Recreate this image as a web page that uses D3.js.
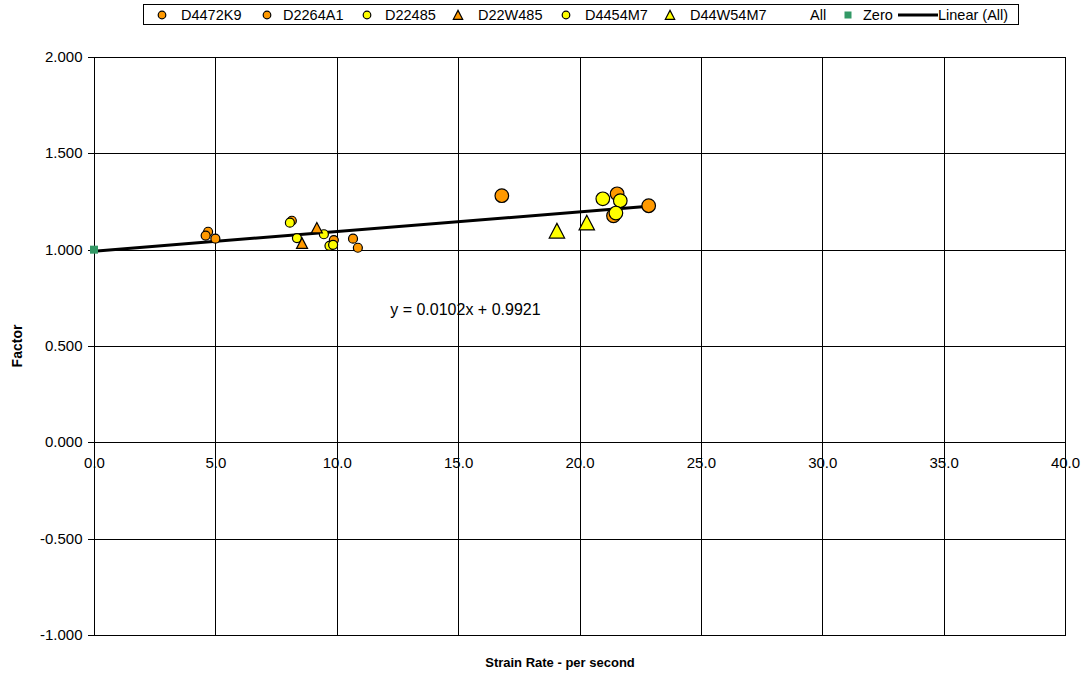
<!DOCTYPE html>
<html><head><meta charset="utf-8">
<script src="https://cdn.jsdelivr.net/npm/d3@7"></script>
<style>body{margin:0;background:#fff}svg{display:block;font-family:"Liberation Sans",Arial,sans-serif}</style>
</head><body><svg id="c" width="1088" height="677"></svg>
<script>
// Data
const seriesNames = ["D4472K9","D2264A1","D22485","D22W485","D4454M7","D44W54M7"];
const d4472k9 = [[16.8,1.28],[21.55,1.29],[21.4,1.176],[22.85,1.228]];
const d2264a1 = [[4.7,1.093],[4.6,1.073],[5.0,1.057],[8.15,1.15],[9.88,1.05],[10.67,1.057],[10.87,1.01]];
const d22485 = [[8.07,1.14],[8.36,1.06],[9.47,1.08],[9.7,1.02],[9.85,1.025]];
const d22w485 = [[9.18,1.11],[8.57,1.03]];
const d4454m7 = [[20.96,1.264],[21.68,1.254],[21.5,1.19]];
const d44w54m7 = [[19.07,1.093],[20.3,1.135]];
const zero = [[0,1.0]];
const slope = 0.0102, intercept = 0.9921;
const xTicks = [0,5,10,15,20,25,30,35,40];
const yTicks = [-1,-0.5,0,0.5,1,1.5,2];

const svg = d3.select("#c");
const L=94,R=1065,T=57,B=635;
const x = d3.scaleLinear().domain([0,40]).range([L,R]);
const y = d3.scaleLinear().domain([-1,2]).range([B,T]);
const ORANGE="#FF9900", YELLOW="#FFFF00", GREEN="#339966";
const TF = 15;

// gridlines
const g = svg.append("g").attr("shape-rendering","crispEdges");
g.selectAll(".hg").data(yTicks).join("line").attr("x1",L).attr("x2",R)
 .attr("y1",d=>Math.round(y(d))+0.5).attr("y2",d=>Math.round(y(d))+0.5).attr("stroke","#000");
g.selectAll(".vg").data(xTicks).join("line").attr("y1",T).attr("y2",B)
 .attr("x1",d=>Math.round(x(d))+0.5).attr("x2",d=>Math.round(x(d))+0.5).attr("stroke","#000");
g.append("rect").attr("x",L+0.5).attr("y",T+0.5).attr("width",R-L).attr("height",B-T).attr("fill","none").attr("stroke","#000");

// y axis
const ya = svg.append("g").attr("transform",`translate(${L+0.5},0)`)
 .call(d3.axisLeft(y).tickValues(yTicks).tickFormat(d=>d.toFixed(3)).tickSize(7).tickPadding(5));
ya.select(".domain").remove();
ya.selectAll("text").attr("font-size",TF).attr("fill","#000").attr("font-family","Liberation Sans, Arial");
ya.selectAll("line").attr("stroke","#000").attr("shape-rendering","crispEdges");
ya.selectAll(".tick").attr("transform",d=>`translate(0,${Math.round(y(d))+0.5})`);

// x axis labels (crossing at y=0)
const xa = svg.append("g").attr("transform",`translate(0,${Math.round(y(0))+0.5})`)
 .call(d3.axisBottom(x).tickValues(xTicks).tickFormat(d=>d.toFixed(1)).tickSize(0).tickPadding(15));
xa.select(".domain").remove();
xa.selectAll("text").attr("font-size",TF).attr("fill","#000").attr("font-family","Liberation Sans, Arial");

// trendline
const xmax = d3.max([].concat(d4472k9,d2264a1,d22485,d22w485,d4454m7,d44w54m7,zero), d=>d[0]);
svg.append("line").attr("x1",x(0)).attr("y1",y(intercept)).attr("x2",x(xmax)).attr("y2",y(slope*xmax+intercept))
 .attr("stroke","#000").attr("stroke-width",3);

function circles(data,r,fill){
  svg.append("g").selectAll("circle").data(data).join("circle")
   .attr("cx",d=>x(d[0])).attr("cy",d=>y(d[1])).attr("r",r).attr("fill",fill).attr("stroke","#000").attr("stroke-width",1.2);
}
const tri = (s)=>`M0,${-s*0.6}L${s*0.55},${s*0.45}L${-s*0.55},${s*0.45}Z`;
function tris(data,s,fill){
  svg.append("g").selectAll("path").data(data).join("path")
   .attr("transform",d=>`translate(${x(d[0])},${y(d[1])})`).attr("d",tri(s)).attr("fill",fill).attr("stroke","#000").attr("stroke-width",1.2);
}
circles(d2264a1,4.5,ORANGE);
circles(d22485,4.5,YELLOW);
tris(d22w485,10,ORANGE);
circles(d4472k9,6.8,ORANGE);
circles(d4454m7,6.8,YELLOW);
tris(d44w54m7,14,YELLOW);
svg.append("g").selectAll("rect").data(zero).join("rect")
 .attr("x",d=>x(d[0])-4).attr("y",d=>y(d[1])-4).attr("width",8).attr("height",8).attr("fill",GREEN);

// equation
svg.append("text").attr("x",x(15.3)).attr("y",y(0.66)).attr("text-anchor","middle").attr("font-size",16)
 .text(`y = ${slope.toFixed(4)}x + ${intercept.toFixed(4)}`);

// axis titles
svg.append("text").attr("x",560).attr("y",667).attr("text-anchor","middle").attr("font-size",13).attr("font-weight","bold").text("Strain Rate - per second");
svg.append("text").attr("transform","translate(22,346) rotate(-90)").attr("text-anchor","middle").attr("font-size",14).attr("font-weight","bold").text("Factor");

// legend
const lg = svg.append("g");
lg.append("rect").attr("x",143.5).attr("y",4.5).attr("width",875).attr("height",20).attr("fill","#fff").attr("stroke","#000").attr("shape-rendering","crispEdges");
const ly = 15;
const items = [
 {name:seriesNames[0],type:"c",fill:ORANGE,mx:162,tx:181},
 {name:seriesNames[1],type:"c",fill:ORANGE,mx:267,tx:283},
 {name:seriesNames[2],type:"c",fill:YELLOW,mx:367,tx:385},
 {name:seriesNames[3],type:"t",fill:ORANGE,mx:458,tx:478},
 {name:seriesNames[4],type:"c",fill:YELLOW,mx:566,tx:585},
 {name:seriesNames[5],type:"t",fill:YELLOW,mx:670,tx:690},
 {name:"All",type:"n",mx:0,tx:810},
 {name:"Zero",type:"s",fill:GREEN,mx:848,tx:863},
 {name:"Linear (All)",type:"l",mx:898,tx:938}
];
items.forEach(it=>{
  if(it.type==="c") lg.append("circle").attr("cx",it.mx).attr("cy",ly).attr("r",3.8).attr("fill",it.fill).attr("stroke","#000").attr("stroke-width",1.2);
  if(it.type==="t") lg.append("path").attr("transform",`translate(${it.mx},${ly+0.5})`).attr("d",tri(8.5)).attr("fill",it.fill).attr("stroke","#000").attr("stroke-width",1.2);
  if(it.type==="s") lg.append("rect").attr("x",it.mx-3.5).attr("y",ly-3.5).attr("width",7).attr("height",7).attr("fill",it.fill);
  if(it.type==="l") lg.append("line").attr("x1",it.mx).attr("x2",it.tx).attr("y1",ly).attr("y2",ly).attr("stroke","#000").attr("stroke-width",3);
  lg.append("text").attr("x",it.tx).attr("y",ly+5).attr("font-size",14.5).text(it.name);
});
</script></body></html>
